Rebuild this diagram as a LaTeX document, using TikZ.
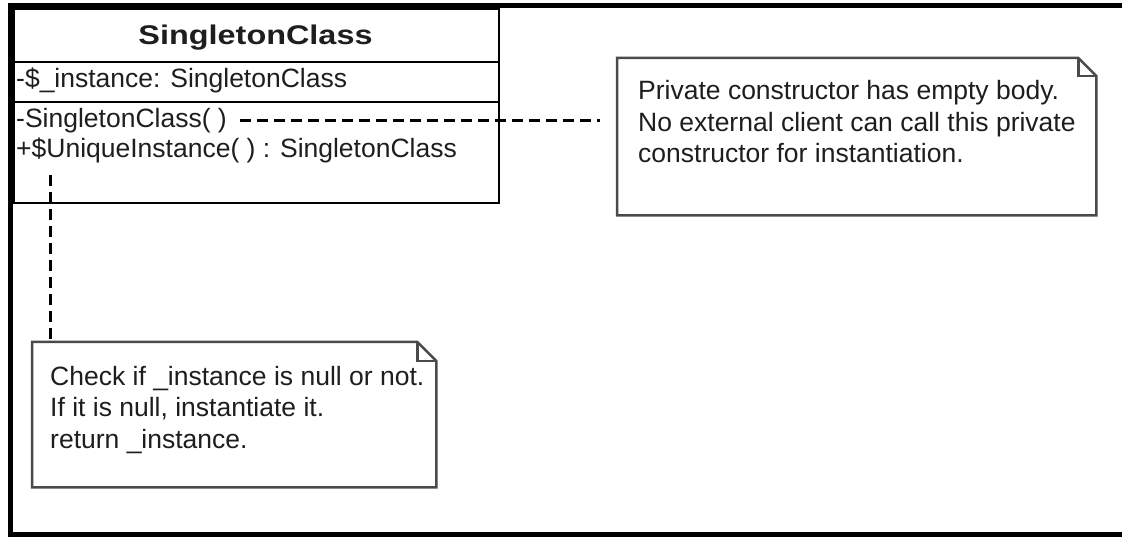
\documentclass[tikz,border=0pt]{standalone}
\usepackage{fontspec}
\usepackage{graphicx}
\setmainfont{Liberation Sans}
\definecolor{ink}{HTML}{1E1E1E}
\definecolor{noteline}{HTML}{4A4A4A}
\tikzset{
  frameline/.style={line width=5pt, black},
  classbox/.style={draw=black, line width=2pt, minimum width=485pt, minimum height=194pt,
                   anchor=north west, inner sep=0pt},
  sepline/.style={line width=2pt, black},
  notebody/.style={draw=none, anchor=north west, inner sep=0pt},
  noteline/.style={draw=noteline, line width=2.5pt, line join=miter},
  txt/.style={anchor=base west, inner sep=0pt, text=ink, font=\fontsize{26.5}{31.5}\selectfont},
  conn/.style={line width=3pt, black, dash pattern=on 11pt off 6pt},
}
% folded-corner note outline around a named node
\newcommand{\drawnote}[2]{%
  \draw[noteline] (#1.north west) -- ([xshift=-#2]#1.north east)
    -- ([yshift=-#2]#1.north east) -- (#1.south east) -- (#1.south west) -- cycle;
  \draw[noteline] ([xshift=-#2]#1.north east) |- ([yshift=-#2]#1.north east);
}
\begin{document}
\begin{tikzpicture}[x=1pt,y=-1pt]
  \useasboundingbox (0,0) rectangle (1122,537);
  \clip (0,0) rectangle (1122,537);
  \fill[white] (0,0) rectangle (1122,537);

  % outer frame (open on the right)
  \draw[frameline] (1130,6) -- (10.5,6) -- (10.5,534) -- (1130,534);

  % class box
  \node[classbox] (cls) at (13,8) {};
  \draw[sepline] (cls.west |- 0,62) -- (cls.east |- 0,62);
  \draw[sepline] (cls.west |- 0,102) -- (cls.east |- 0,102);
  \node[anchor=base, inner sep=0pt, text=ink, font=\fontsize{27}{30}\selectfont\bfseries]
    (title) at (255.5,45) {\scalebox{1.2}[1]{SingletonClass}};
  \node[txt] (attr) at (16,88) {-\$\_instance: SingletonClass};
  \node[txt] (ctor) at (16,128) {-SingletonClass( )};
  \node[txt] (uniq) at (16,158) {+\$UniqueInstance( ) : SingletonClass};

  % note on the private constructor
  \node[notebody, minimum width=479pt, minimum height=157pt] (note1) at (617,58) {};
  \drawnote{note1}{18pt}
  \node[txt] (n1a) at (638,100) {Private constructor has empty body.};
  \node[txt] (n1b) at (638,131.5) {No external client can call this private};
  \node[txt] (n1c) at (638,163) {constructor for instantiation.};

  % note on UniqueInstance
  \node[notebody, minimum width=404pt, minimum height=145pt] (note2) at (32,342) {};
  \drawnote{note2}{19pt}
  \node[txt] (n2a) at (50,385) {Check if \_instance is null or not.};
  \node[txt] (n2b) at (50,416.5) {If it is null, instantiate it.};
  \node[txt] (n2c) at (50,448) {return \_instance.};

  % dashed attachments
  \coordinate (k1a) at (240,121);
  \coordinate (k1b) at (600,121);
  \draw[conn] (k1a) -- (k1b);
  \coordinate (k2a) at (50,175);
  \draw[conn] (k2a) -- (k2a |- note2.north);
\end{tikzpicture}
\end{document}
